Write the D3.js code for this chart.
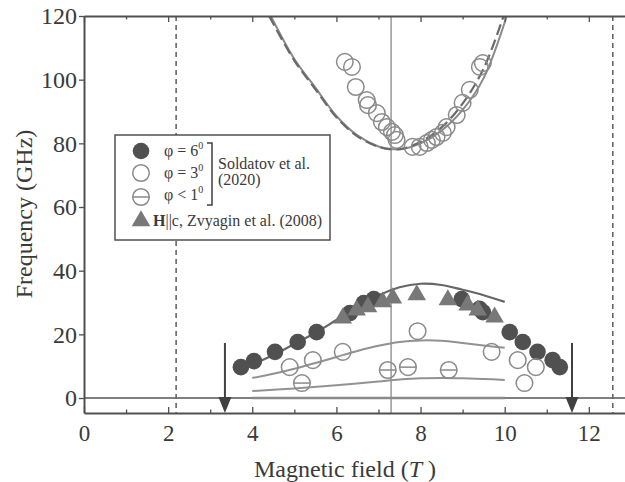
<!DOCTYPE html>
<html>
<head>
<meta charset="utf-8">
<script src="https://cdn.jsdelivr.net/npm/d3@7"></script>
<style>
body { margin: 0; background: #fff; }
text { font-family: "Liberation Serif", "Times New Roman", serif; fill: #3a3a3a; }
</style>
</head>
<body>
<svg id="chart" width="625" height="482"></svg>
<script>
// points: [field T, frequency GHz]
var phi6 = [[3.73,9.7],[4.04,11.6],[4.54,14.5],[5.08,17.6],[5.53,20.7],[6.32,26.7],[6.65,29.8],[6.89,31.1],
            [8.98,31.1],[9.4,28.0],[9.48,27.0],[10.12,20.7],[10.43,17.6],[10.78,14.5],[11.14,11.9],[11.31,9.7]];
var phi3 = [[4.89,9.7],[5.44,11.9],[6.15,14.5],[7.93,21.0],[9.69,14.5],[10.31,11.9],[10.74,9.7],[10.47,4.7],
            [6.2,105.6],[6.37,104.0],[6.46,97.7],[6.72,93.6],[6.75,92.0],[6.96,89.5],[7.08,86.7],[7.2,85.1],
            [7.32,83.6],[7.39,82.6],[7.43,81.1],[7.81,78.9],[7.98,78.9],[8.15,80.1],[8.27,81.1],[8.38,82.0],
            [8.53,83.3],[8.62,85.1],[8.86,88.9],[9.0,92.7],[9.17,96.8],[9.41,104.0],[9.48,105.2]];
var phi1 = [[5.18,4.7],[7.22,8.8],[7.7,9.7],[8.67,8.8]];
var zvyagin = [[6.15,25.1],[6.48,27.6],[6.75,28.6],[7.1,30.2],[7.34,31.4],[7.91,32.4],
               [8.65,30.8],[9.12,29.2],[9.36,27.6],[9.76,25.4]];

// theory curves
var upperSolid = [[4.44,120],[5,106.5],[5.5,97.5],[6,88.6],[6.5,82.5],[7,79],[7.3,78.2],[7.6,78.3],
                  [8,80],[8.5,84],[9,90.5],[9.5,100.5],[10.05,120]];
var upperDashed = [[4.4,120],[5,106],[5.5,97],[6,88.2],[6.5,82.2],[7,78.9],[7.3,78.1],[7.6,78.4],
                   [8,80.5],[8.5,85],[9,92.5],[9.5,103.5],[10.0,121]];
var branchA = [[4,10.5],[4.5,13.5],[5,17],[5.5,20.5],[6,24.5],[6.5,28.5],[7,32.2],[7.5,34.8],
               [8,35.9],[8.5,35.5],[9,34],[9.5,32.3],[10,30.2]];
var branchB = [[4,6.3],[4.5,7.6],[5,9.2],[5.5,11],[6,12.9],[6.5,14.8],[7,16.4],[7.5,17.6],
               [8,18.1],[8.5,18],[9,17.3],[9.5,16.5],[10,15.8]];
var branchC = [[4,2.2],[5,3.0],[6,4.0],[7,5.2],[7.5,5.8],[8,6.2],[8.5,6.3],[9,6.2],[9.5,6.0],[10,5.7]];
var branchD = [[4,0],[10,0]];

var dashedFields = [2.19, 12.57];
var solidField = 7.3;
var arrowFields = [3.35, 11.6];
var arrowTop = 17.3;

var xTicks = d3.range(0, 13);
var yTicks = [0, 20, 40, 60, 80, 100, 120];

var svg = d3.select("#chart");
var x = d3.scaleLinear().domain([0, 12.86]).range([84, 625]);
var y = d3.scaleLinear().domain([-4.7, 120]).range([413, 16]);

svg.append("clipPath").attr("id", "plot")
  .append("rect").attr("x", 84).attr("y", 16).attr("width", 541).attr("height", 397);

var plot = svg.append("g").attr("clip-path", "url(#plot)");

// zero line
plot.append("line")
  .attr("x1", x(0)).attr("x2", x(12.86)).attr("y1", y(0)).attr("y2", y(0))
  .attr("stroke", "#555").attr("stroke-width", 1.5);

// vertical markers
plot.selectAll(".vdash").data(dashedFields).enter().append("line")
  .attr("x1", function(d){ return x(d); }).attr("x2", function(d){ return x(d); })
  .attr("y1", y(120)).attr("y2", y(-4.7))
  .attr("stroke", "#666").attr("stroke-width", 1.6).attr("stroke-dasharray", "5,4");
plot.append("line")
  .attr("x1", x(solidField)).attr("x2", x(solidField)).attr("y1", y(120)).attr("y2", y(-4.7))
  .attr("stroke", "#999").attr("stroke-width", 1.5);

var line = d3.line()
  .x(function(d){ return x(d[0]); })
  .y(function(d){ return y(d[1]); })
  .curve(d3.curveCatmullRom);

var curves = [
  {d: upperSolid, c: "#8a8a8a", w: 2, dash: null},
  {d: upperDashed, c: "#6a6a6a", w: 2.2, dash: "11,5"},
  {d: branchA, c: "#666", w: 2.2, dash: null},
  {d: branchB, c: "#929292", w: 2, dash: null},
  {d: branchC, c: "#929292", w: 2, dash: null},
  {d: branchD, c: "#8a8a8a", w: 2.5, dash: null}
];
plot.selectAll(".curve").data(curves).enter().append("path")
  .attr("d", function(d){ return line(d.d); })
  .attr("fill", "none")
  .attr("stroke", function(d){ return d.c; })
  .attr("stroke-width", function(d){ return d.w; })
  .attr("stroke-dasharray", function(d){ return d.dash; });

// data points
var R = 8.3;
plot.selectAll(".p6").data(phi6).enter().append("circle")
  .attr("cx", function(d){ return x(d[0]); }).attr("cy", function(d){ return y(d[1]); })
  .attr("r", R).attr("fill", "#505050");
plot.selectAll(".p3").data(phi3).enter().append("circle")
  .attr("cx", function(d){ return x(d[0]); }).attr("cy", function(d){ return y(d[1]); })
  .attr("r", R).attr("fill", "none").attr("stroke", "#8a8a8a").attr("stroke-width", 1.5);
var p1 = plot.selectAll(".p1").data(phi1).enter().append("g")
  .attr("transform", function(d){ return "translate(" + x(d[0]) + "," + y(d[1]) + ")"; });
p1.append("circle").attr("r", R).attr("fill", "none").attr("stroke", "#8a8a8a").attr("stroke-width", 1.5);
p1.append("line").attr("x1", -R).attr("x2", R).attr("stroke", "#8a8a8a").attr("stroke-width", 1.5);

var tri = d3.symbol().type(d3.symbolTriangle).size(150);
plot.selectAll(".zv").data(zvyagin).enter().append("path")
  .attr("d", tri)
  .attr("transform", function(d){ return "translate(" + x(d[0]) + "," + y(d[1]) + ")"; })
  .attr("fill", "#787878");

// arrows
var arr = svg.selectAll(".arrow").data(arrowFields).enter().append("g");
arr.append("line")
  .attr("x1", function(d){ return x(d); }).attr("x2", function(d){ return x(d); })
  .attr("y1", y(arrowTop)).attr("y2", y(-1))
  .attr("stroke", "#404040").attr("stroke-width", 2);
arr.append("path")
  .attr("d", function(d){
    var cx = x(d);
    return "M" + (cx - 6.5) + "," + y(0.3) + "L" + (cx + 6.5) + "," + y(0.3) + "L" + cx + "," + y(-4.7) + "Z";
  })
  .attr("fill", "#404040");

// axes
function styleAxis(g) {
  g.selectAll("path.domain").attr("stroke", "#505050").attr("stroke-width", 2);
  g.selectAll(".tick line").attr("stroke", "#505050").attr("stroke-width", 1.3);
  g.selectAll(".tick text").style("font-family", "'Liberation Serif', serif").style("font-size", "23px").attr("fill", "#3a3a3a");
}

var xb = svg.append("g").attr("transform", "translate(0," + y(-4.7) + ")")
  .call(d3.axisBottom(x).tickValues(xTicks).tickSize(-6).tickSizeOuter(0).tickPadding(12)
    .tickFormat(function(d){ return d % 2 ? "" : d; }));
styleAxis(xb);
xb.selectAll(".tick line").attr("y2", function(d){ return d % 2 ? -3.5 : -6; });

var xt = svg.append("g").attr("transform", "translate(0," + y(120) + ")")
  .call(d3.axisTop(x).tickValues(xTicks).tickSize(-6).tickSizeOuter(0).tickFormat(""));
styleAxis(xt);
xt.selectAll(".tick line").attr("y2", function(d){ return d % 2 ? 3.5 : 6; });

var yl = svg.append("g").attr("transform", "translate(" + x(0) + ",0)")
  .call(d3.axisLeft(y).tickValues(yTicks).tickSize(5).tickSizeOuter(0).tickPadding(2));
styleAxis(yl);
yl.selectAll(".tick text").style("font-size", "24px");

// axis titles
var xt2 = svg.append("text").attr("x", 345).attr("y", 477).attr("text-anchor", "middle").style("font-size", "24px");
xt2.append("tspan").text("Magnetic field (");
xt2.append("tspan").style("font-style", "italic").text("T");
xt2.append("tspan").text(" )");

svg.append("text").attr("transform", "translate(32,214) rotate(-90)")
  .attr("text-anchor", "middle").style("font-size", "24px").text("Frequency (GHz)");

// legend
var lg = svg.append("g");
lg.append("rect").attr("x", 115).attr("y", 135).attr("width", 215).attr("height", 105)
  .attr("fill", "#fff").attr("stroke", "#505050").attr("stroke-width", 1.5);
lg.append("circle").attr("cx", 141).attr("cy", 151).attr("r", R).attr("fill", "#505050");
lg.append("circle").attr("cx", 141).attr("cy", 173).attr("r", R).attr("fill", "none").attr("stroke", "#8a8a8a").attr("stroke-width", 1.5);
lg.append("circle").attr("cx", 141).attr("cy", 197).attr("r", R).attr("fill", "none").attr("stroke", "#8a8a8a").attr("stroke-width", 1.5);
lg.append("line").attr("x1", 141 - R).attr("x2", 141 + R).attr("y1", 197).attr("y2", 197).attr("stroke", "#8a8a8a").attr("stroke-width", 1.5);
lg.append("path").attr("d", tri).attr("transform", "translate(141,221)").attr("fill", "#787878");

var phiLabels = [["φ = 6", 156], ["φ = 3", 178], ["φ < 1", 200]];
phiLabels.forEach(function(p){
  var t = lg.append("text").attr("x", 164).attr("y", p[1]).style("font-size", "16px");
  t.append("tspan").text(p[0]);
  t.append("tspan").attr("dy", -7).style("font-size", "10px").text("0");
});
lg.append("path").attr("d", "M207,143H212V205H207").attr("fill", "none").attr("stroke", "#404040").attr("stroke-width", 1.5);
lg.append("text").attr("x", 218).attr("y", 169).style("font-size", "16px").text("Soldatov et al.");
lg.append("text").attr("x", 218).attr("y", 185).style("font-size", "16px").text("(2020)");
var zt = lg.append("text").attr("x", 153).attr("y", 226).style("font-size", "16px");
zt.append("tspan").style("font-weight", "bold").text("H");
zt.append("tspan").text("||c, Zvyagin et al. (2008)");
</script>
</body>
</html>
